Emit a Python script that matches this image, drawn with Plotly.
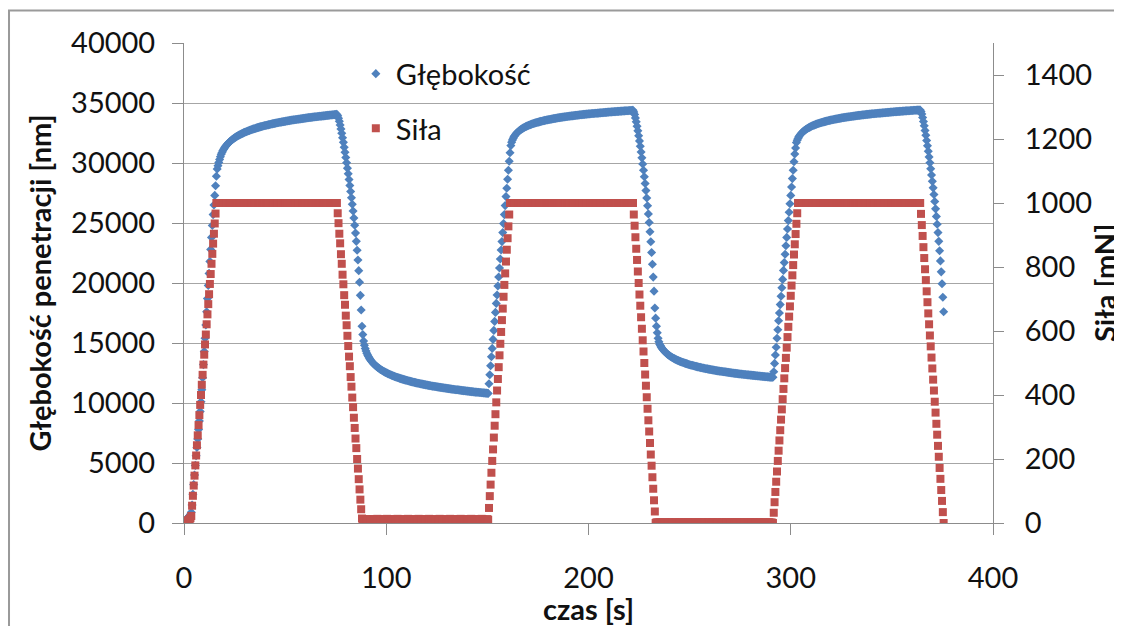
import plotly.graph_objects as go

# ---------------- data ----------------
time_step_s = 0.4  # sampling interval of the instrument [s]

# Głębokość [nm], segment by segment
depth_preload = [50, 130, 220, 300, 380, 460, 540, 620, 720]
depth_load1 = [900, 1500, 2400, 3200, 4000, 4800, 5600, 6300, 7000, 7800,
               8500, 9300, 10100, 11100, 12100, 13200, 14300, 15400, 16500, 17600,
               18700, 19800, 20800, 21800, 22800, 23800, 24800, 25700, 26500, 27300,
               28100, 28900]
depth_hold1 = [29500, 29780,
               30050, 30300, 30530, 30720, 30880, 31020, 31140, 31250, 31350, 31440,
               31530, 31600, 31670, 31740, 31800, 31860, 31920, 31970, 32020, 32070,
               32120, 32160, 32210, 32250, 32290, 32320, 32360, 32400, 32430, 32460,
               32490, 32530, 32560, 32580, 32610, 32640, 32670, 32690, 32720, 32750,
               32770, 32790, 32820, 32840, 32860, 32880, 32910, 32930, 32950, 32970,
               32990, 33010, 33030, 33040, 33060, 33080, 33100, 33120, 33130, 33150,
               33170, 33180, 33200, 33210, 33230, 33250, 33260, 33280, 33290, 33300,
               33320, 33330, 33350, 33360, 33370, 33390, 33400, 33410, 33430, 33440,
               33450, 33460, 33470, 33490, 33500, 33510, 33520, 33530, 33550, 33560,
               33570, 33580, 33590, 33600, 33610, 33620, 33630, 33640, 33650, 33660,
               33670, 33680, 33690, 33700, 33710, 33720, 33730, 33740, 33750, 33760,
               33770, 33780, 33790, 33790, 33800, 33810, 33820, 33830, 33840, 33850,
               33850, 33860, 33870, 33880, 33890, 33890, 33900, 33910, 33920, 33930,
               33930, 33940, 33950, 33960, 33970, 33970, 33980, 33990, 34000, 34000,
               34010, 34020, 34020, 34030, 34040, 34050, 34050]
depth_unload1 = [33930, 33730, 33470, 33170, 32840, 32480, 32110, 31720, 31310, 30890,
                 30460, 30020, 29570, 29100, 28620, 28120, 27620, 27100, 26560, 26000,
                 25420, 24810, 24160, 23470, 22730, 21920, 21030, 20060, 18970, 17750,
                 16400]
depth_rest1 = [15700, 15160, 14810, 14540, 14330, 14150, 14000, 13870, 13750, 13650,
               13550, 13460, 13380, 13300, 13230, 13170, 13110, 13050, 12990, 12940,
               12890, 12840, 12790, 12750, 12710, 12670, 12630, 12590, 12550, 12520,
               12490, 12450, 12420, 12390, 12360, 12330, 12300, 12270, 12250, 12220,
               12190, 12170, 12140, 12120, 12100, 12070, 12050, 12030, 12010, 11990,
               11970, 11950, 11930, 11910, 11890, 11870, 11850, 11830, 11820, 11800,
               11780, 11760, 11750, 11730, 11720, 11700, 11680, 11670, 11650, 11640,
               11620, 11610, 11590, 11580, 11570, 11550, 11540, 11530, 11510, 11500,
               11490, 11470, 11460, 11450, 11440, 11420, 11410, 11400, 11390, 11380,
               11370, 11350, 11340, 11330, 11320, 11310, 11300, 11290, 11280, 11270,
               11260, 11250, 11240, 11230, 11220, 11210, 11200, 11190, 11180, 11170,
               11160, 11150, 11140, 11130, 11120, 11110, 11100, 11100, 11090, 11080,
               11070, 11060, 11050, 11040, 11030, 11030, 11020, 11010, 11000, 10990,
               10990, 10980, 10970, 10960, 10950, 10950, 10940, 10930, 10920, 10910,
               10910, 10900, 10890, 10890, 10880, 10870, 10870, 10860, 10850, 10840,
               10840, 10830, 10820, 10820, 10810, 10800]
depth_load2 = [11600, 12350, 13100, 13850, 14550, 15300, 16050, 16800, 17550, 18300,
               19000, 19750, 20500, 21250, 22000, 22750, 23450, 24200, 24950, 25700,
               26450, 27200, 27900, 28650, 29400, 30150, 30850]
depth_hold2 = [31450, 31730, 31920, 32070, 32200, 32300, 32390, 32470, 32540, 32610,
               32670, 32720, 32770, 32820, 32860, 32910, 32940, 32980, 33020, 33050,
               33080, 33110, 33140, 33170, 33190, 33220, 33250, 33270, 33290, 33310,
               33340, 33360, 33380, 33400, 33410, 33430, 33450, 33470, 33480, 33500,
               33520, 33530, 33550, 33560, 33580, 33590, 33610, 33620, 33630, 33650,
               33660, 33670, 33690, 33700, 33710, 33720, 33730, 33750, 33760, 33770,
               33780, 33790, 33800, 33810, 33820, 33830, 33840, 33850, 33860, 33870,
               33880, 33890, 33900, 33910, 33920, 33930, 33930, 33940, 33950, 33960,
               33970, 33980, 33980, 33990, 34000, 34010, 34020, 34020, 34030, 34040,
               34050, 34050, 34060, 34070, 34070, 34080, 34090, 34090, 34100, 34110,
               34120, 34120, 34130, 34130, 34140, 34150, 34150, 34160, 34160, 34170,
               34180, 34180, 34190, 34190, 34200, 34210, 34210, 34220, 34220, 34230,
               34240, 34240, 34250, 34250, 34260, 34260, 34270, 34270, 34280, 34280,
               34290, 34290, 34300, 34300, 34310, 34310, 34320, 34320, 34330, 34330,
               34340, 34340, 34350, 34350, 34360, 34360, 34370, 34370, 34380, 34380,
               34390, 34390]
depth_unload2 = [34260, 34050, 33760, 33430, 33070, 32680, 32270, 31840, 31390, 30920,
                 30430, 29920, 29400, 28850, 28290, 27700, 27080, 26440, 25760, 25040,
                 24270, 23440, 22540, 21560, 20490, 19320, 17920, 17070]
depth_rest2 = [16400, 15850, 15400, 15100, 14900, 14770, 14650, 14550, 14460, 14380,
               14300, 14230, 14170, 14110, 14050, 14000, 13950, 13900, 13860, 13810,
               13770, 13730, 13700, 13660, 13630, 13590, 13560, 13530, 13500, 13470,
               13450, 13420, 13390, 13370, 13350, 13320, 13300, 13280, 13260, 13230,
               13210, 13190, 13170, 13150, 13140, 13120, 13100, 13080, 13060, 13050,
               13030, 13010, 13000, 12980, 12970, 12950, 12940, 12920, 12910, 12890,
               12880, 12860, 12850, 12840, 12820, 12810, 12800, 12790, 12770, 12760,
               12750, 12740, 12730, 12710, 12700, 12690, 12680, 12670, 12660, 12650,
               12640, 12630, 12620, 12610, 12600, 12590, 12580, 12570, 12560, 12550,
               12540, 12530, 12520, 12510, 12500, 12490, 12480, 12470, 12470, 12460,
               12450, 12440, 12430, 12420, 12420, 12410, 12400, 12390, 12380, 12380,
               12370, 12360, 12350, 12340, 12340, 12330, 12320, 12320, 12310, 12300,
               12300, 12290, 12280, 12270, 12270, 12260, 12250, 12250, 12240, 12230,
               12230, 12220, 12210, 12210, 12200, 12190, 12190, 12180, 12180, 12170,
               12160, 12160, 12150, 12150, 12140]
depth_load3 = [12600, 13300, 14000, 14650, 15400, 16100, 16850, 17500, 18200, 18900,
               19600, 20300, 21050, 21700, 22400, 23100, 23800, 24500, 25200, 25900,
               26600, 27300, 28000, 28700, 29400, 30100, 30750, 31250, 31700, 31900,
               32050]
depth_hold3 = [32180, 32290, 32380, 32460, 32530, 32600, 32660, 32710, 32760, 32810,
               32860, 32900, 32940, 32970, 33010, 33040, 33080, 33110, 33140, 33160,
               33190, 33220, 33240, 33270, 33290, 33310, 33330, 33360, 33380, 33400,
               33420, 33430, 33450, 33470, 33490, 33500, 33520, 33540, 33550, 33570,
               33580, 33600, 33610, 33630, 33640, 33660, 33670, 33680, 33690, 33710,
               33720, 33730, 33740, 33760, 33770, 33780, 33790, 33800, 33810, 33820,
               33830, 33840, 33850, 33860, 33870, 33880, 33890, 33900, 33910, 33920,
               33930, 33940, 33950, 33960, 33970, 33970, 33980, 33990, 34000, 34010,
               34010, 34020, 34030, 34040, 34050, 34050, 34060, 34070, 34070, 34080,
               34090, 34100, 34100, 34110, 34120, 34120, 34130, 34140, 34140, 34150,
               34160, 34160, 34170, 34180, 34180, 34190, 34190, 34200, 34210, 34210,
               34220, 34220, 34230, 34240, 34240, 34250, 34250, 34260, 34270, 34270,
               34280, 34280, 34290, 34290, 34300, 34300, 34310, 34310, 34320, 34320,
               34330, 34330, 34340, 34340, 34350, 34350, 34360, 34360, 34370, 34370,
               34380, 34380, 34390, 34390, 34400, 34400, 34410, 34410, 34420, 34420,
               34420]
depth_unload3 = [34290, 34080, 33790, 33460, 33100, 32710, 32310, 31880, 31440, 30980,
                 30510, 30020, 29520, 29000, 28470, 27930, 27370, 26790, 26180, 25550,
                 24890, 24200, 23470, 22690, 21840, 20930, 19940, 18810, 17600]

# Siła [mN], segment by segment
force_preload = [0, 2, 3, 5, 6, 8, 10, 12, 15]
force_load1 = [22, 54, 85, 117, 148, 180, 211, 243, 274, 306,
               337, 369, 400, 432, 463, 495, 526, 558, 589, 621,
               652, 684, 715, 747, 778, 810, 841, 873, 904, 936,
               967, 1000]
force_hold1 = [1000, 1000, 1000, 1000, 1000, 1000, 1000, 1000, 1000, 1000,
               1000, 1000, 1000, 1000, 1000, 1000, 1000, 1000, 1000, 1000,
               1000, 1000, 1000, 1000, 1000, 1000, 1000, 1000, 1000, 1000,
               1000, 1000, 1000, 1000, 1000, 1000, 1000, 1000, 1000, 1000,
               1000, 1000, 1000, 1000, 1000, 1000, 1000, 1000, 1000, 1000,
               1000, 1000, 1000, 1000, 1000, 1000, 1000, 1000, 1000, 1000,
               1000, 1000, 1000, 1000, 1000, 1000, 1000, 1000, 1000, 1000,
               1000, 1000, 1000, 1000, 1000, 1000, 1000, 1000, 1000, 1000,
               1000, 1000, 1000, 1000, 1000, 1000, 1000, 1000, 1000, 1000,
               1000, 1000, 1000, 1000, 1000, 1000, 1000, 1000, 1000, 1000,
               1000, 1000, 1000, 1000, 1000, 1000, 1000, 1000, 1000, 1000,
               1000, 1000, 1000, 1000, 1000, 1000, 1000, 1000, 1000, 1000,
               1000, 1000, 1000, 1000, 1000, 1000, 1000, 1000, 1000, 1000,
               1000, 1000, 1000, 1000, 1000, 1000, 1000, 1000, 1000, 1000,
               1000, 1000, 1000, 1000, 1000, 1000, 1000, 1000, 1000]
force_unload1 = [968, 937, 904, 874, 840, 810, 776, 746, 712, 682,
                 648, 618, 585, 553, 520, 490, 456, 426, 392, 362,
                 329, 297, 264, 234, 200, 170, 137, 105, 73, 43,
                 14]
force_rest1 = [12, 11, 10, 10, 9, 11, 12, 10, 9, 8,
               10, 11, 12, 11, 9, 9, 10, 12, 13, 11,
               9, 8, 9, 11, 12, 11, 10, 9, 10, 12,
               13, 12, 10, 9, 8, 9, 11, 12, 12, 10,
               9, 10, 11, 13, 12, 10, 9, 8, 10, 11,
               12, 11, 9, 9, 10, 12, 13, 12, 10, 9,
               8, 9, 11, 12, 11, 10, 9, 10, 12, 13,
               12, 10, 9, 8, 9, 11, 12, 12, 10, 9,
               10, 11, 13, 12, 10, 9, 8, 10, 11, 12,
               11, 9, 9, 10, 12, 13, 12, 10, 9, 8,
               9, 11, 12, 11, 10, 9, 10, 12, 13, 12,
               10, 9, 8, 9, 11, 12, 12, 10, 9, 10,
               11, 13, 12, 10, 9, 8, 10, 11, 12, 11,
               9, 9, 10, 12, 13, 12, 10, 9, 8, 9,
               11, 12, 11, 10, 9, 10, 12, 13, 12, 10,
               9, 8, 9, 11, 12, 10]
force_load2 = [47, 84, 120, 157, 194, 230, 267, 304, 340, 377,
               414, 450, 487, 524, 560, 597, 634, 670, 707, 744,
               780, 817, 854, 890, 927, 964, 1000]
force_hold2 = [1000, 1000, 1000, 1000, 1000, 1000, 1000, 1000, 1000, 1000,
               1000, 1000, 1000, 1000, 1000, 1000, 1000, 1000, 1000, 1000,
               1000, 1000, 1000, 1000, 1000, 1000, 1000, 1000, 1000, 1000,
               1000, 1000, 1000, 1000, 1000, 1000, 1000, 1000, 1000, 1000,
               1000, 1000, 1000, 1000, 1000, 1000, 1000, 1000, 1000, 1000,
               1000, 1000, 1000, 1000, 1000, 1000, 1000, 1000, 1000, 1000,
               1000, 1000, 1000, 1000, 1000, 1000, 1000, 1000, 1000, 1000,
               1000, 1000, 1000, 1000, 1000, 1000, 1000, 1000, 1000, 1000,
               1000, 1000, 1000, 1000, 1000, 1000, 1000, 1000, 1000, 1000,
               1000, 1000, 1000, 1000, 1000, 1000, 1000, 1000, 1000, 1000,
               1000, 1000, 1000, 1000, 1000, 1000, 1000, 1000, 1000, 1000,
               1000, 1000, 1000, 1000, 1000, 1000, 1000, 1000, 1000, 1000,
               1000, 1000, 1000, 1000, 1000, 1000, 1000, 1000, 1000, 1000,
               1000, 1000, 1000, 1000, 1000, 1000, 1000, 1000, 1000, 1000,
               1000, 1000, 1000, 1000, 1000, 1000, 1000, 1000, 1000, 1000,
               1000, 1000]
force_unload2 = [964, 929, 893, 857, 822, 786, 750, 714, 679, 643,
                 607, 571, 536, 500, 464, 429, 393, 357, 321, 286,
                 250, 214, 179, 143, 107, 71, 36, 0]
force_rest2 = [2, 1, 1, 1, 2, 1, 1, 0, 1, 1,
               1, 2, 1, 1, 1, 1, 2, 1, 1, 1,
               0, 1, 1, 2, 1, 1, 1, 1, 2, 1,
               1, 1, 0, 1, 2, 1, 1, 1, 1, 2,
               1, 1, 1, 0, 1, 1, 2, 1, 1, 1,
               2, 1, 1, 1, 0, 1, 1, 2, 1, 1,
               1, 1, 2, 1, 1, 1, 0, 1, 1, 2,
               1, 1, 1, 1, 2, 1, 1, 0, 1, 1,
               1, 2, 1, 1, 1, 1, 2, 1, 1, 1,
               0, 1, 1, 2, 1, 1, 1, 1, 2, 1,
               1, 1, 0, 1, 2, 1, 1, 1, 1, 2,
               1, 1, 1, 0, 1, 1, 2, 1, 1, 1,
               2, 1, 1, 1, 0, 1, 1, 2, 1, 1,
               1, 1, 2, 1, 1, 1, 0, 1, 1, 2,
               1, 1, 1, 1, 0]
force_load3 = [32, 65, 97, 129, 161, 194, 226, 258, 290, 323,
               355, 387, 419, 452, 484, 516, 548, 581, 613, 645,
               677, 710, 742, 774, 806, 839, 871, 903, 935, 968,
               1000]
force_hold3 = [1000, 1000, 1000, 1000, 1000, 1000, 1000, 1000, 1000, 1000,
               1000, 1000, 1000, 1000, 1000, 1000, 1000, 1000, 1000, 1000,
               1000, 1000, 1000, 1000, 1000, 1000, 1000, 1000, 1000, 1000,
               1000, 1000, 1000, 1000, 1000, 1000, 1000, 1000, 1000, 1000,
               1000, 1000, 1000, 1000, 1000, 1000, 1000, 1000, 1000, 1000,
               1000, 1000, 1000, 1000, 1000, 1000, 1000, 1000, 1000, 1000,
               1000, 1000, 1000, 1000, 1000, 1000, 1000, 1000, 1000, 1000,
               1000, 1000, 1000, 1000, 1000, 1000, 1000, 1000, 1000, 1000,
               1000, 1000, 1000, 1000, 1000, 1000, 1000, 1000, 1000, 1000,
               1000, 1000, 1000, 1000, 1000, 1000, 1000, 1000, 1000, 1000,
               1000, 1000, 1000, 1000, 1000, 1000, 1000, 1000, 1000, 1000,
               1000, 1000, 1000, 1000, 1000, 1000, 1000, 1000, 1000, 1000,
               1000, 1000, 1000, 1000, 1000, 1000, 1000, 1000, 1000, 1000,
               1000, 1000, 1000, 1000, 1000, 1000, 1000, 1000, 1000, 1000,
               1000, 1000, 1000, 1000, 1000, 1000, 1000, 1000, 1000, 1000,
               1000]
force_unload3 = [966, 931, 897, 862, 828, 793, 759, 724, 690, 655,
                 621, 586, 552, 517, 483, 448, 414, 379, 345, 310,
                 276, 241, 207, 172, 138, 103, 69, 34, 0]

x_ticks = [0, 100, 200, 300, 400]
y_ticks = [0, 5000, 10000, 15000, 20000, 25000, 30000, 35000, 40000]
y2_ticks = [0, 200, 400, 600, 800, 1000, 1200, 1400]

depth = (depth_preload + depth_load1 + depth_hold1 + depth_unload1 + depth_rest1 +
         depth_load2 + depth_hold2 + depth_unload2 + depth_rest2 +
         depth_load3 + depth_hold3 + depth_unload3)
force = (force_preload + force_load1 + force_hold1 + force_unload1 + force_rest1 +
         force_load2 + force_hold2 + force_unload2 + force_rest2 +
         force_load3 + force_hold3 + force_unload3)
t_depth = [round(i * time_step_s, 2) for i in range(len(depth))]
t_force = [round(i * time_step_s, 2) for i in range(len(force))]

# ---------------- figure ----------------
BLUE = "#4F81BD"
RED = "#C0504D"
AXIS = "#8c8c8c"
GRID = "#a6a6a6"
TXT = "#111111"
FONT = "Lato, 'Open Sans', 'DejaVu Sans', sans-serif"

fig = go.Figure()
fig.add_trace(go.Scatter(
    x=t_depth, y=depth, mode="markers", name="Głębokość",
    legendgroup="g1",
    marker=dict(symbol="diamond", size=7, color=BLUE, line=dict(width=0)),
))
fig.add_trace(go.Scatter(
    x=t_force, y=force, mode="markers", name="Siła", yaxis="y2",
    legendgroup="g2",
    marker=dict(symbol="square", size=8, color=RED, line=dict(width=0)),
))

fig.update_layout(
    width=1114, height=618,
    margin=dict(l=176, r=129, t=35, b=103, autoexpand=False),
    paper_bgcolor="white", plot_bgcolor="white",
    font=dict(family=FONT, size=29, color=TXT),
    showlegend=True,
    legend=dict(x=0.2124, y=0.989, xanchor="left", yanchor="top",
                bgcolor="rgba(0,0,0,0)", borderwidth=0,
                font=dict(family=FONT, size=29, color=TXT),
                traceorder="grouped", tracegroupgap=14),
    xaxis=dict(range=[0, 400], tickvals=x_ticks, showgrid=False, zeroline=False,
               showline=True, linecolor=AXIS, linewidth=1,
               ticks="outside", ticklen=11, tickcolor=AXIS, tickwidth=1,
               ticklabelstandoff=18, automargin=False,
               title=dict(text="<b>czas [s]</b>", standoff=10,
                          font=dict(family=FONT, size=29, color=TXT))),
    yaxis=dict(range=[0, 40000], tickvals=y_ticks, tickformat="d",
               showgrid=True, gridcolor=GRID, gridwidth=1, zeroline=False,
               showline=True, linecolor=AXIS, linewidth=1,
               ticks="outside", ticklen=11, tickcolor=AXIS, tickwidth=1,
               ticklabelstandoff=11, automargin=False,
               title=dict(text="<b>Głębokość penetracji [nm]</b>", standoff=10,
                          font=dict(family=FONT, size=29, color=TXT))),
    yaxis2=dict(range=[0, 1500], tickvals=y2_ticks, tickformat="d",
                overlaying="y", side="right", showgrid=False, zeroline=False,
                showline=True, linecolor=AXIS, linewidth=1,
                ticks="outside", ticklen=10, tickcolor=AXIS, tickwidth=1,
                ticklabelstandoff=15, automargin=False),
    annotations=[dict(text="<b>Siła [mN]</b>", textangle=-90,
                      xref="paper", yref="paper", x=1.1372, y=0.5,
                      xanchor="center", yanchor="middle", showarrow=False,
                      font=dict(family=FONT, size=29, color=TXT))],
    shapes=[dict(type="rect", xref="paper", yref="paper",
                 x0=-0.2163, x1=1.25, y0=-0.35, y1=1.0677,
                 line=dict(color="#9a9a9a", width=2), fillcolor="rgba(0,0,0,0)",
                 layer="below")],
)

fig.write_html("out.html")
